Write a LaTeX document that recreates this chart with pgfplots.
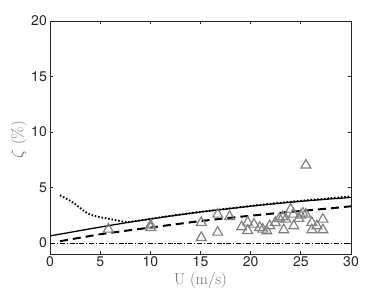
\documentclass[border=0pt]{standalone}
\usepackage{fontspec}
\usepackage{pgfplots}
\pgfplotsset{compat=1.18}
\newfontfamily\tickfont{TeX Gyre Heros}
\definecolor{axgray}{gray}{0.15}
\definecolor{labgray}{gray}{0.45}
\definecolor{mkgray}{gray}{0.5}
\begin{document}
\begin{tikzpicture}
\begin{axis}[
  at={(0,0)}, anchor=south west,
  scale only axis, width=301bp, height=233bp,
  xmin=0, xmax=30, ymin=-1, ymax=20,
  xtick={0,5,...,30}, ytick={0,5,10,15,20},
  tick align=inside, ticks=both,
  major tick length=3bp,
  axis line style={axgray, line width=0.7pt},
  every tick/.style={axgray, line width=0.7pt},
  /pgf/number format/assume math mode=true,
  tick label style={font=\tickfont\fontsize{14bp}{16bp}\selectfont, text=axgray},
  xticklabel style={inner sep=2.5bp},
  yticklabel style={inner sep=3bp},
  xlabel={U (m/s)}, ylabel={$\zeta$ (\%)},
  label style={font=\fontsize{16bp}{18bp}\selectfont, text=labgray},
  xlabel style={at={(axis description cs:0.5,-0.112)}, anchor=center},
  ylabel style={at={(axis description cs:-0.103,0.49)}, anchor=center},
  clip=true,
]
% dash-dot zero line
\addplot[black, line width=0.5pt, dash pattern=on 5bp off 1.8bp on 1.2bp off 1.8bp] coordinates {(0,0) (30,0)};
% solid
\addplot[black, line width=1.3pt] coordinates {
(0,0.63) (2,0.95) (4,1.27) (6,1.58) (8,1.88) (10,2.15) (12,2.42) (15,2.79) (18,3.1) (20,3.31) (22,3.5) (25,3.75) (28,3.97) (30,4.1)};
% dotted
\addplot[black, line width=1.9pt, dash pattern=on 1.5bp off 1.9bp] coordinates {
(1,4.3) (1.5,4.05) (2,3.8) (2.5,3.5) (3,3.15) (3.5,2.8) (4,2.55) (4.5,2.42) (5,2.32) (6,2.15) (7,1.97) (7.7,1.86) (8,1.9) (10,2.17) (12,2.44) (15,2.8) (18,3.12) (20,3.33) (22,3.53) (25,3.8) (28,4.03) (30,4.2)};
% dashed
\addplot[black, line width=2pt, dash pattern=on 8bp off 5bp] coordinates {
(1,0.15) (3,0.47) (5,0.78) (8,1.15) (10,1.38) (12,1.62) (15,1.97) (18,2.27) (20,2.45) (22,2.63) (25,2.88) (28,3.12) (30,3.3)};
% measurements
\addplot[only marks, mark=triangle, mark size=5.7bp, mkgray, mark options={line width=1.2pt}] coordinates {
(5.81,1.23) (10.03,1.38) (10.03,1.6) (15.08,1.83) (15.08,0.48) (16.71,2.58) (16.71,0.96)
(17.9,2.37) (19.1,1.44) (19.7,1.86) (19.7,1.11) (20.33,1.68) (20.9,1.38) (21.2,1.23)
(21.6,1.08) (21.9,1.53) (22.46,1.83) (22.86,2.19) (23.19,2.34) (23.3,1.17) (23.5,2.13)
(23.99,3.03) (24.3,1.53) (24.25,2.58) (24.8,2.2) (25.0,2.49) (25.2,2.67) (25.5,2.58)
(25.5,7.0) (26.1,1.83) (26.1,1.17) (26.6,1.53) (27.2,2.13) (27.2,1.17)};
\end{axis}
\path[use as bounding box] (-50bp,-37bp) rectangle (338bp,254bp);
\end{tikzpicture}
\end{document}
